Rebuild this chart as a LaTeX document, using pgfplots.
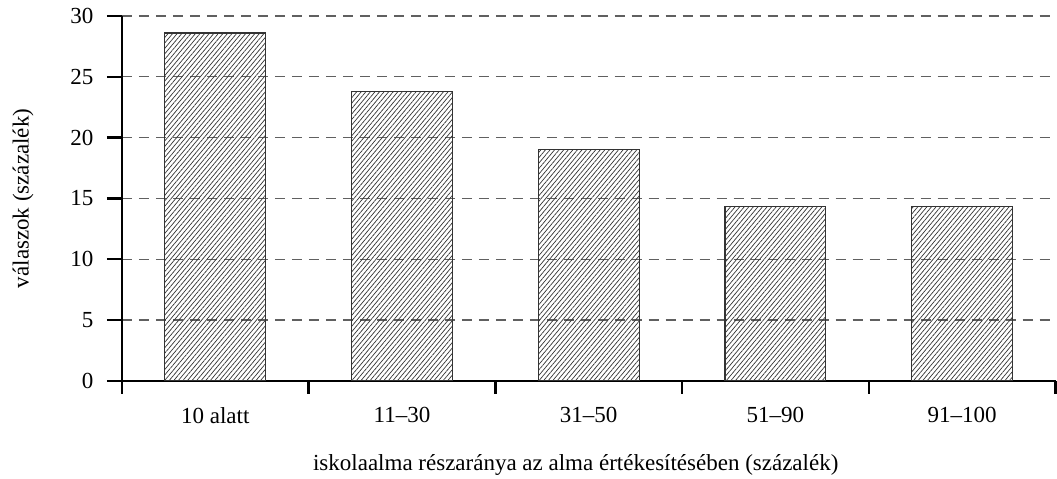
\documentclass[border=0pt]{standalone}
\usepackage{pgfplots}
\pgfplotsset{compat=1.18}
\usepackage{fontspec}
\setmainfont{Liberation Serif}
\usetikzlibrary{patterns.meta}
\begin{document}
\begin{tikzpicture}[x=1pt,y=1pt]
\begin{axis}[
  scale only axis,
  width=934pt, height=365pt,
  xmin=-0.5, xmax=4.5, ymin=0, ymax=30,
  axis x line*=bottom, axis y line*=left,
  axis line style={line width=2.4pt, black},
  x axis line style={-}, y axis line style={-},
  xtick={0,1,2,3,4},
  xticklabels={10 alatt,11--30,31--50,51--90,91--100},
  major x tick style={draw=none},
  minor xtick={-0.5,0.5,1.5,2.5,3.5,4.5},
  minor x tick style={line width=2.4pt, black},
  minor tick length=13pt,
  xtick align=outside,
  ytick={0,5,...,30},
  ytick align=outside,
  major y tick style={line width=2.4pt, black},
  major tick length=15pt,
  ymajorgrids,
  grid style={dash pattern=on 10pt off 7pt, line width=1.3pt, gray!75!black},
  tick label style={font=\fontsize{23}{27}\selectfont},
  label style={font=\fontsize{23}{27}\selectfont},
  yticklabel style={xshift=-10pt},
  xticklabel style={yshift=-8pt},
  xlabel={iskolaalma részaránya az alma értékesítésében (százalék)},
  ylabel={válaszok (százalék)},
  xlabel style={yshift=-24pt, xshift=-13pt},
  ylabel style={yshift=30pt},
  ybar, bar width=101pt,
  /pgf/number format/assume math mode=true,
  clip=false,
]
\addplot[draw=black!80, line width=1.1pt,
  pattern={Lines[angle=50, distance=3.5pt, line width=0.7pt]},
  pattern color=black!80] coordinates {(0,28.6) (1,23.8) (2,19.05) (3,14.3) (4,14.3)};
\coordinate (ll) at (rel axis cs:0,0);
\coordinate (ur) at (rel axis cs:1,1);
\end{axis}
\pgfresetboundingbox
\path[use as bounding box] ([shift={(-122pt,-98pt)}]ll) rectangle ([shift={(1.5pt,16pt)}]ur);
\end{tikzpicture}
\end{document}
